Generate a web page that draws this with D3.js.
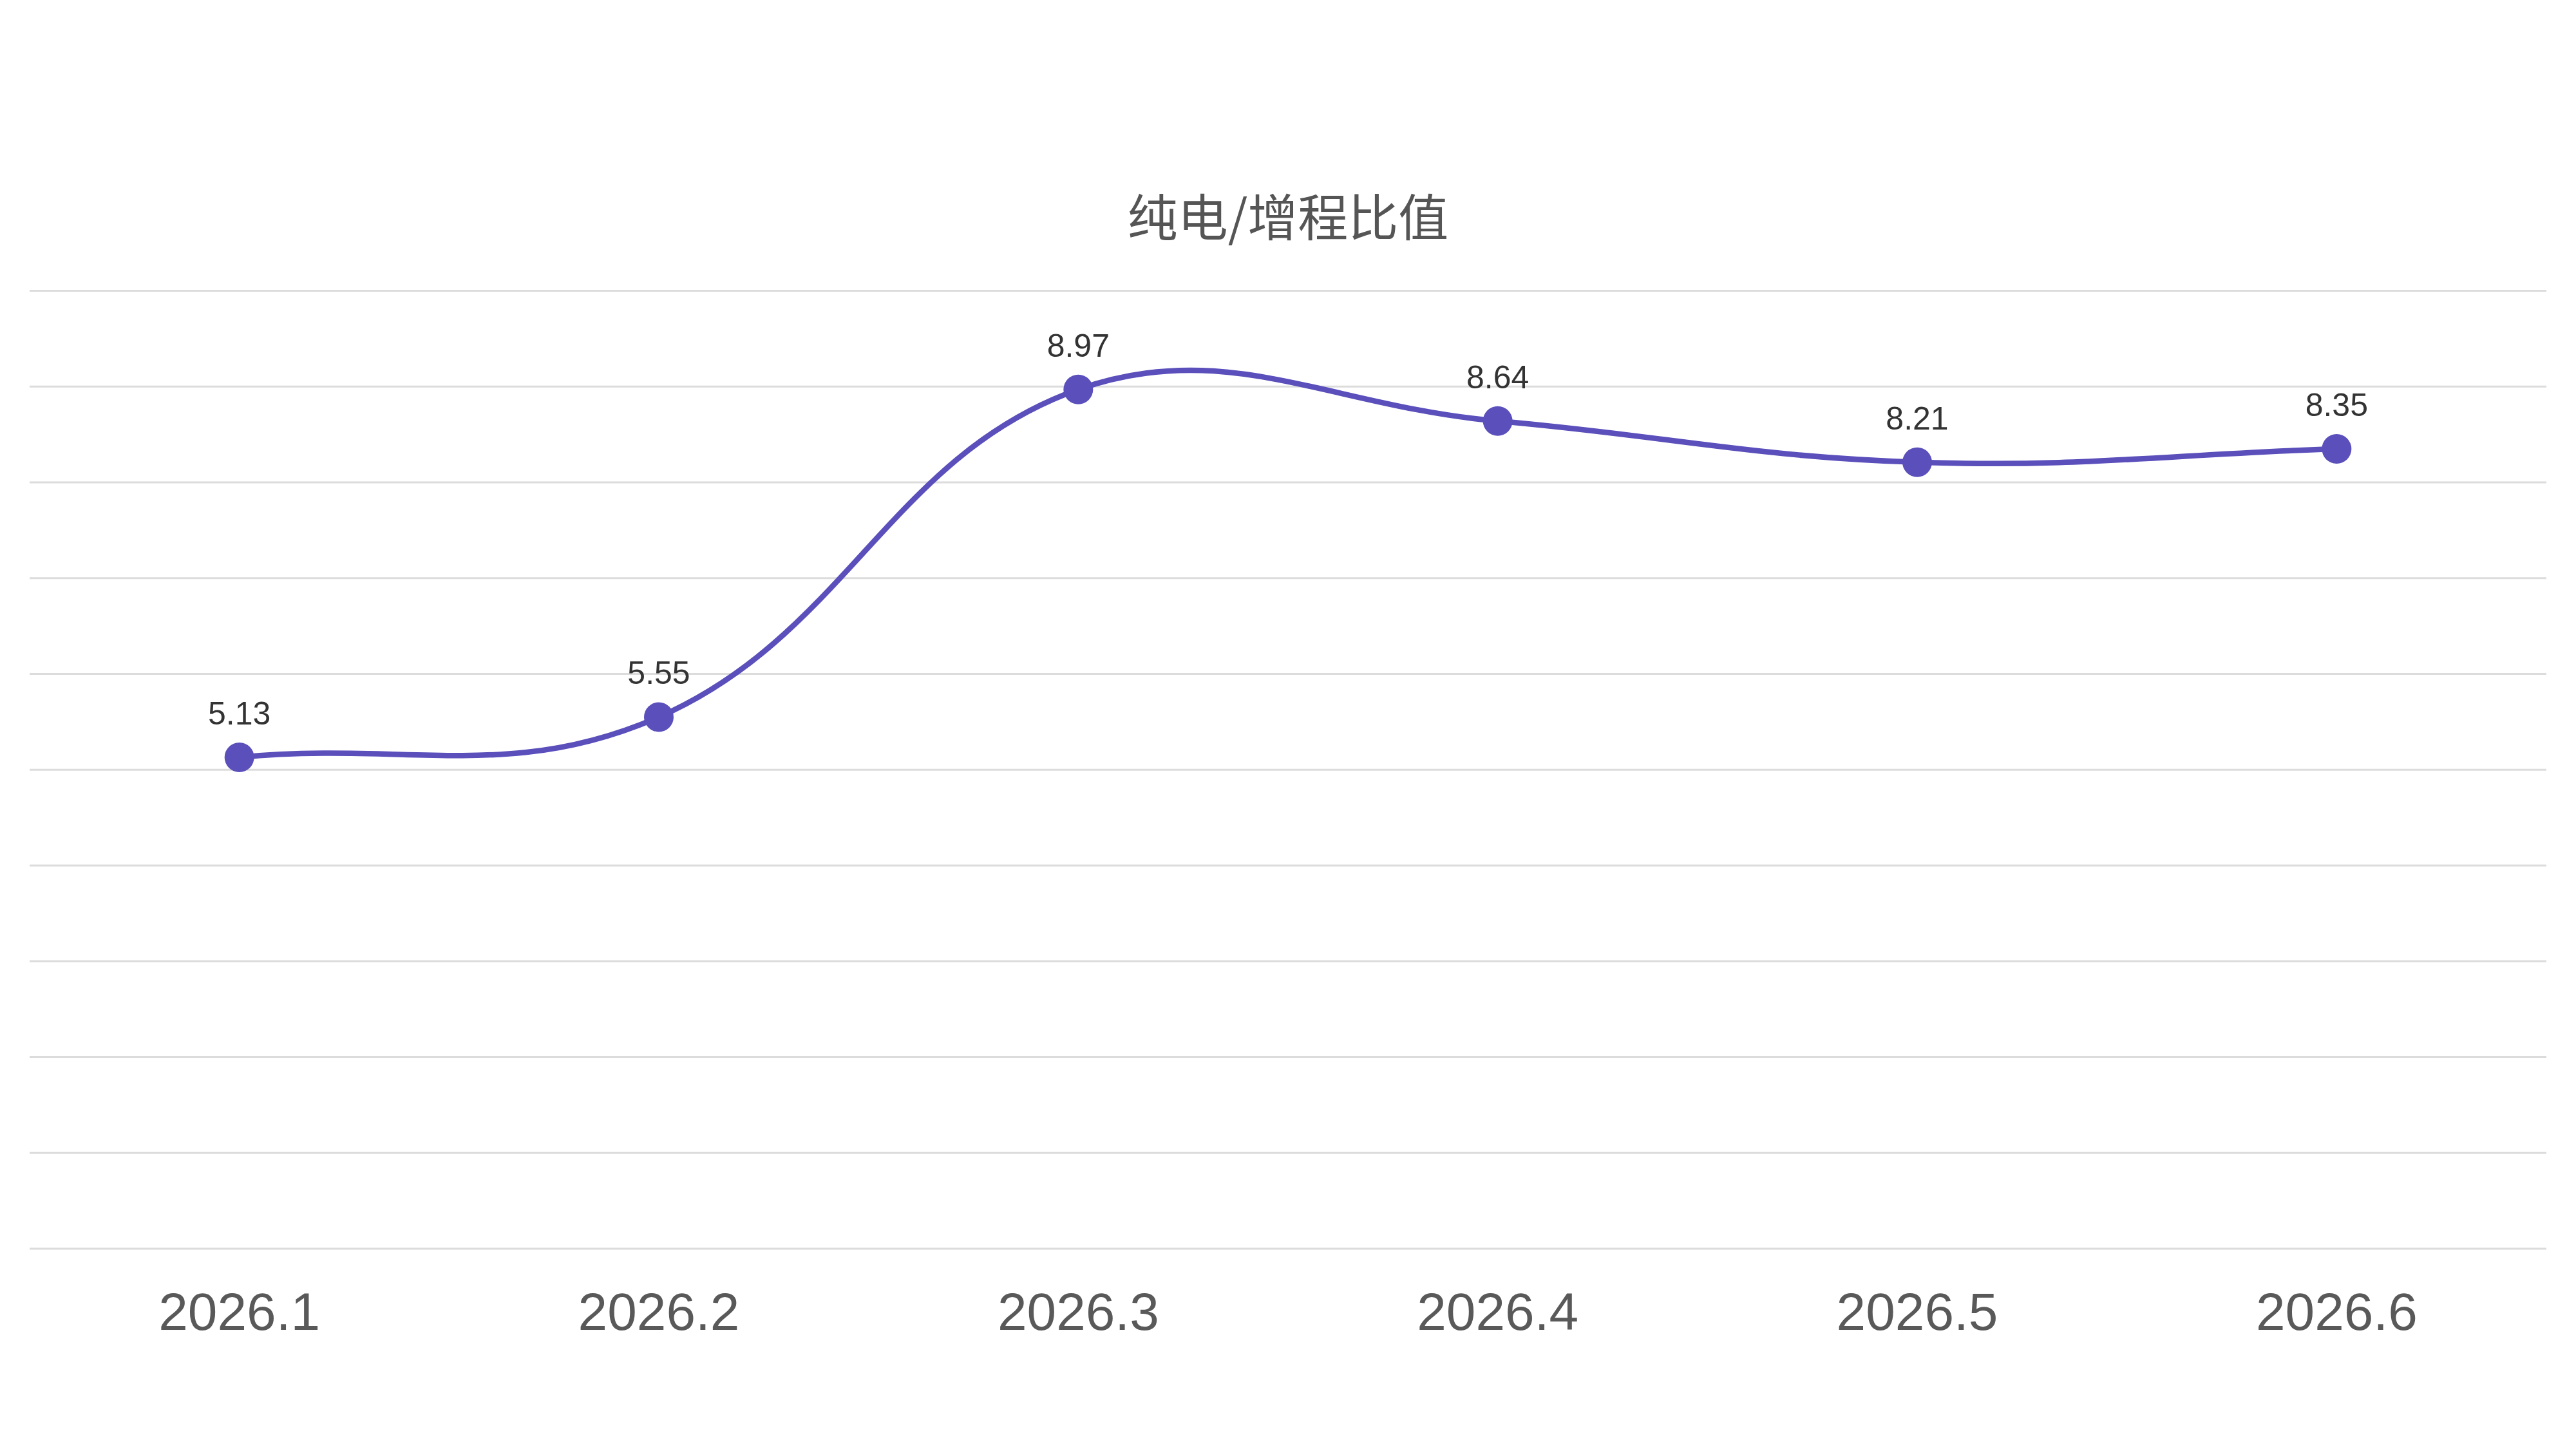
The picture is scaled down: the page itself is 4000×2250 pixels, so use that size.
<!DOCTYPE html>
<meta charset="utf-8">
<style>
body { margin: 0; background-color: #FFFFFF; }
.axis .domain { display: none; }
</style>
<svg width="4000" height="2250"></svg>
<script src="https://cdnjs.cloudflare.com/ajax/libs/d3/7.8.5/d3.min.js"></script>
<script>

var title = "纯电/增程比值";
var months = ["2026.1", "2026.2", "2026.3", "2026.4", "2026.5", "2026.6"];
var ratios = [5.13, 5.55, 8.97, 8.64, 8.21, 8.35];
var gridTicks = [0, 1, 2, 3, 4, 5, 6, 7, 8, 9, 10];

var svg = d3.select("svg"),
    margin = {top: 451.5, right: 46, bottom: 311, left: 46},
    width = +svg.attr("width") - margin.left - margin.right,
    height = +svg.attr("height") - margin.top - margin.bottom,
    g = svg.append("g").attr("transform", "translate(" + margin.left + "," + margin.top + ")");

var x = d3.scaleBand()
    .domain(months)
    .range([0, width]);

var y = d3.scaleLinear()
    .domain([0, 10])
    .range([height, 0]);

var purple = "#5a4fbb";

// 横向网格线
g.append("g")
  .selectAll("line")
  .data(gridTicks)
  .enter().append("line")
    .attr("x1", 0)
    .attr("x2", width)
    .attr("y1", function(d) { return y(d); })
    .attr("y2", function(d) { return y(d); })
    .attr("stroke", "#dcdcdc")
    .attr("stroke-width", 3);

// x 轴标签
var xAxis = g.append("g")
    .attr("class", "axis")
    .attr("transform", "translate(0," + height + ")")
    .call(d3.axisBottom(x).tickSize(0).tickPadding(0));

xAxis.selectAll("text")
    .attr("y", 126)
    .attr("dy", 0)
    .attr("font-family", "'Liberation Sans', Arial, sans-serif")
    .attr("font-size", 82)
    .attr("fill", "#595959");

var cx = function(d, i) { return x(months[i]) + x.bandwidth() / 2; };

// 平滑曲线：按相邻距离分配控制点（tension 0.4）
var pts = ratios.map(function(d, i) { return [cx(d, i), y(d)]; });
var tension = 0.4;
var ctrl = pts.map(function(p, i) {
  var p0 = pts[Math.max(i - 1, 0)], p2 = pts[Math.min(i + 1, pts.length - 1)];
  var d01 = Math.hypot(p[0] - p0[0], p[1] - p0[1]),
      d12 = Math.hypot(p2[0] - p[0], p2[1] - p[1]);
  var fa = d01 + d12 ? tension * d01 / (d01 + d12) : 0,
      fb = d01 + d12 ? tension * d12 / (d01 + d12) : 0;
  return {
    prev: [p[0] - fa * (p2[0] - p0[0]), p[1] - fa * (p2[1] - p0[1])],
    next: [p[0] + fb * (p2[0] - p0[0]), p[1] + fb * (p2[1] - p0[1])]
  };
});
var path = d3.path();
path.moveTo(pts[0][0], pts[0][1]);
for (var i = 1; i < pts.length; i++) {
  path.bezierCurveTo(ctrl[i - 1].next[0], ctrl[i - 1].next[1],
                     ctrl[i].prev[0], ctrl[i].prev[1],
                     pts[i][0], pts[i][1]);
}

g.append("path")
    .attr("fill", "none")
    .attr("stroke", purple)
    .attr("stroke-width", 8.5)
    .attr("d", path.toString());

g.append("g")
  .selectAll("circle")
  .data(ratios)
  .enter().append("circle")
    .attr("cx", cx)
    .attr("cy", function(d) { return y(d); })
    .attr("r", 23)
    .attr("fill", purple);

// 数值标签
g.append("g")
  .selectAll("text")
  .data(ratios)
  .enter().append("text")
    .attr("x", cx)
    .attr("y", function(d) { return y(d) - 51; })
    .attr("text-anchor", "middle")
    .attr("font-family", "'Liberation Sans', Arial, sans-serif")
    .attr("font-size", 50)
    .attr("fill", "#333333")
    .text(function(d) { return d.toFixed(2); });

// 标题
svg.append("text")
    .attr("x", 2000)
    .attr("y", 333)
    .attr("dominant-baseline", "central")
    .attr("text-anchor", "middle")
    .attr("font-family", "'Noto Sans CJK SC', sans-serif")
    .attr("font-size", 78)
    .attr("fill", "#555555")
    .text(title);

</script>
